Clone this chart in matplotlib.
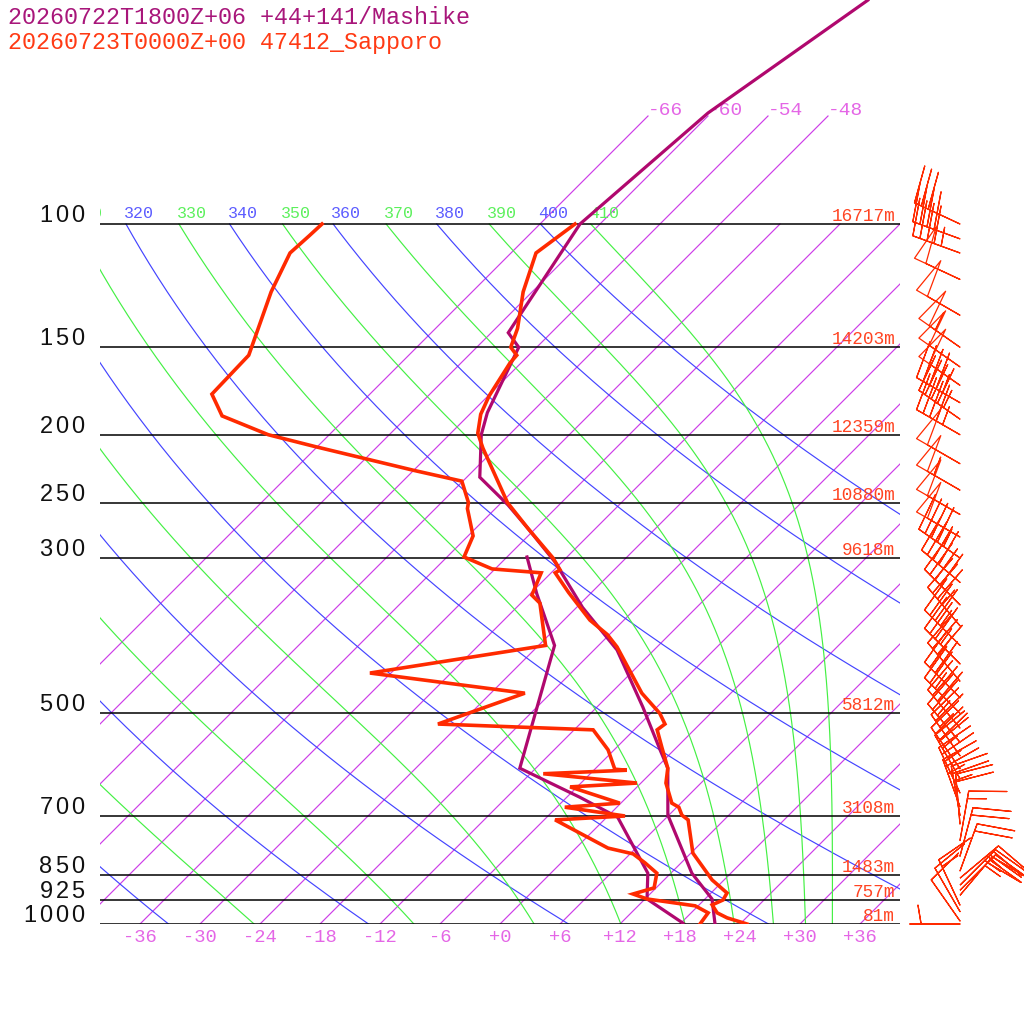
#emagramme skew-T : Sapporo (obs) + Mashike (modele)
import numpy as np
import matplotlib
matplotlib.use('Agg')
from matplotlib import pyplot as plt, transforms

# niveaux standard et hauteurs geopotentielles
plevels = [1000, 925, 850, 700, 500, 300, 250, 200, 150, 100]
heights = ['81m', '757m', '1483m', '3108m', '5812m', '9618m', '10880m', '12359m', '14203m', '16717m']

# 47412 Sapporo, temperature
obs_p = [1000, 980, 964, 939, 924, 903, 865, 792, 710, 699, 681, 672, 629, 599, 559, 528, 518, 500,
         468, 402, 386, 368, 336, 315, 312, 300, 272, 250, 209, 199, 187, 176, 158, 154, 150, 141,
         125, 110, 100]
obs_t = [24.7, 22.1, 20.6, 19.3, 19.9, 19.6, 16.8, 12.2, 8.4, 7.3, 6.2, 5.1, 2.5, 1.2, -1.5, -3.7, -3.5, -5.1,
         -8.9, -16.0, -18.2, -21.4, -26.3, -29.6, -29.4, -31.3, -36.8, -41.4, -49.3, -51.3, -52.9, -53.9, -55.1, -55.2, -56.6, -57.8,
         -60.9, -63.5, -62.5]
# 47412 Sapporo, point de rosee
obs_td_p = [1000, 964, 942, 921, 906, 888, 846, 818, 794, 779, 710, 701, 681, 672, 637, 629, 610, 603, 601,
            564, 528, 518, 468, 438, 400, 348, 339, 315, 311, 299, 279, 255, 250, 233, 225, 208, 200,
            188, 183, 175, 154, 125, 110, 104, 100]
obs_td = [20.0, 19.7, 17.7, 12.2, 10.3, 11.8, 10.6, 8.4, 6.3, 3.2, -4.9, 1.7, -5.2, -0.1, -6.7, -0.4, -10.7, -2.7, -4.0,
          -6.6, -10.1, -26.2, -20.6, -38.1, -23.3, -28.1, -29.7, -31.0, -36.3, -40.3, -41.5, -44.8, -45.3, -48.1, -53.9, -66.2, -72.1,
          -78.6, -79.8, -81.8, -82.0, -86.1, -88.1, -87.9, -87.8]

# Mashike, modele
mod_p = [997, 921, 846, 699, 599, 564, 490, 406, 353, 304, 272, 252, 230, 200, 186, 150, 143, 100, 69.4, 47.9]
mod_t = [21.4, 18.7, 14.1, 5.9, 1.2, -1.4, -7.4, -15.7, -23.4, -30.7, -36.8, -41.1, -46.7, -50.8, -52.4, -55.8, -58.3,
         -62.0, -60.3, -55.6]
mod_td_p = [997, 921, 846, 704, 659, 599, 400, 337, 299]
mod_td = [18.2, 12.2, 9.7, 1.1, -4.7, -13.6, -22.4, -29.4, -34.0]

# vent Sapporo (direction en degres, vitesse en noeuds)
wind_p = [1000, 990, 960, 940, 910, 895, 880, 860, 840, 800, 760, 720, 700, 680, 650, 620, 600, 575, 550, 525,
          500, 475, 450, 425, 400, 375, 350, 325, 300, 280, 260, 240, 220, 200, 190, 180, 170, 160, 150, 135,
          120, 110, 105, 100]
wind_dir = [270, 325, 330, 335, 40, 45, 45, 50, 20, 15, 10, 355, 350, 340, 335, 330, 325, 325, 320, 320,
            315, 315, 320, 315, 315, 320, 315, 310, 305, 300, 300, 300, 300, 300, 305, 300, 305, 305, 305, 300,
            295, 290, 290, 295]
wind_spd = [5, 10, 10, 15, 20, 25, 25, 25, 20, 20, 15, 20, 25, 25, 25, 25, 30, 25, 25, 30,
            25, 30, 30, 35, 35, 35, 40, 40, 45, 50, 50, 55, 50, 45, 45, 45, 50, 50, 55, 50,
            50, 45, 40, 30]

isothermes = list(range(-66, 37, 6))
theta_sec = list(range(240, 401, 20))
theta_e = list(range(250, 411, 20))

violet = '#b0086e'
rouge = '#ff2a00'
c_iso = '#cc3ee8'
c_iso_lab = '#e466e6'
bleu = '#4444ff'
vert = '#44f044'
mono = 'Liberation Mono'

P_TOP = 1000 / 10 ** (924 / 700)
P_ISO = 1000 / 10 ** (808 / 700)


def skew(t, p):
    return np.asarray(t, dtype=float) + 70 * np.log10(1000 / np.asarray(p, dtype=float))


def theta_e_sat(tk, p):
    es = 6.112 * np.exp(17.67 * (tk - 273.15) / (tk - 29.65))
    es = np.minimum(es, 0.9 * p)
    r = 622.0 * es / (p - es)
    return tk * (1000 / p) ** (0.2854 * (1 - 0.28e-3 * r)) * np.exp((3.376 / tk - 0.00254) * r * (1 + 0.81e-3 * r))


def adiabat_humide(the, p):
    lo = np.full(p.shape, 150.0)
    hi = np.full(p.shape, 330.0)
    for _ in range(60):
        mid = (lo + hi) / 2
        trop = theta_e_sat(mid, p) > the
        hi = np.where(trop, mid, hi)
        lo = np.where(trop, lo, mid)
    return (lo + hi) / 2 - 273.15


fig = plt.figure(figsize=(10.24, 10.24), dpi=100)
ax = fig.add_axes([100 / 1024, 100 / 1024, 800 / 1024, 924 / 1024])
ax.set_yscale('log')
ax.set_xlim(-40, 40)
ax.set_ylim(1000, P_TOP)
ax.axis('off')

pp = np.geomspace(1000, 100, 300)

# isothermes
for t in isothermes:
    ptop = P_ISO if t <= -48 else 100
    ax.plot(skew([t, t], [1000, ptop]), [1000, ptop], color=c_iso, lw=0.85, zorder=1)

# adiabatiques seches
for th in theta_sec:
    tt = th * (pp / 1000) ** 0.2857 - 273.15
    ax.plot(skew(tt, pp), pp, color=bleu, lw=0.85, zorder=1)

# adiabatiques humides
for th in theta_e:
    tt = adiabat_humide(th, pp)
    ax.plot(skew(tt, pp), pp, color=vert, lw=0.85, zorder=1)

# isobares
for p in plevels:
    ax.plot([-40, 40], [p, p], color='black', lw=1.1, zorder=2)

# etiquettes theta a 100 hPa
lab_theta = transforms.offset_copy(ax.transData, fig=fig, x=-2, y=6, units='dots')
for th in theta_sec:
    t100 = th * 0.1 ** 0.2857 - 273.15
    if skew(t100, 100) > -45:
        ax.text(skew(t100, 100), 100, str(th), color='#5c5cff', family=mono, fontsize=12,
                ha='left', va='baseline', transform=lab_theta, clip_on=True)
for th in theta_e:
    t100 = adiabat_humide(th, np.array([100.0]))[0]
    if skew(t100, 100) > -45:
        ax.text(skew(t100, 100), 100, str(th), color='#5cf05c', family=mono, fontsize=12,
                ha='left', va='baseline', transform=lab_theta, clip_on=True)

# etiquettes isothermes en haut
lab_iso = transforms.offset_copy(ax.transData, fig=fig, x=0, y=1, units='dots')
for t in isothermes:
    if t <= -48:
        ax.text(skew(t, P_ISO), P_ISO, '%d' % t, color=c_iso_lab, family=mono, fontsize=14,
                ha='left', va='baseline', transform=lab_iso)

# etiquettes temperature en bas
lab_bas = transforms.offset_copy(ax.transData, fig=fig, x=0, y=-13, units='dots')
for t in isothermes:
    if t >= -36:
        ax.text(t, 1000, '%+d' % t, color=c_iso_lab, family=mono, fontsize=13.5,
                ha='center', va='center', transform=lab_bas, clip_on=False)

# hauteurs
lab_h = transforms.offset_copy(ax.transData, fig=fig, x=0, y=3, units='dots')
for p, h in zip(plevels, heights):
    ax.text(39.5, p, h, color='#ff4422', family=mono, fontsize=12.8, ha='right', va='baseline',
            transform=lab_h)

# pressions a gauche
lab_p = transforms.offset_copy(ax.get_yaxis_transform(), fig=fig, x=0, y=8, units='dots')
for p in plevels:
    s = str(p)
    for i, ch in enumerate(s[::-1]):
        ax.text((78 - 16 * i - 100) / 800, p, ch, color='#111111', family='Liberation Sans', fontsize=17,
                ha='center', va='center', transform=lab_p, clip_on=False)

# sondages
ax.plot(skew(mod_t, mod_p), mod_p, color=violet, lw=2.3, zorder=4, solid_joinstyle='miter')
ax.plot(skew(mod_td, mod_td_p), mod_td_p, color=violet, lw=2.3, zorder=4, solid_joinstyle='miter')
ax.plot(skew(obs_t, obs_p), obs_p, color=rouge, lw=2.6, zorder=5, solid_joinstyle='miter')
ax.plot(skew(obs_td, obs_td_p), obs_td_p, color=rouge, lw=2.6, zorder=5, solid_joinstyle='miter')

# barbules de vent
d = np.radians(wind_dir)
s = np.array(wind_spd, dtype=float)
u = -s * np.sin(d)
v = -s * np.cos(d)
ax.barbs(np.full(len(wind_p), 46.0), wind_p, u, v, length=8.5, pivot='tip', color=rouge,
         linewidth=0.9, fill_empty=False, sizes=dict(height=0.75, spacing=0.15, emptybarb=0.0),
         facecolor='none', edgecolor=rouge, clip_on=False, zorder=5)

# titre
fig.text(8 / 1024, 1 - 17 / 1024, '20260722T1800Z+06 +44+141/Mashike', color='#a8167a', family=mono,
         fontsize=16.8, va='center', ha='left')
fig.text(8 / 1024, 1 - 42 / 1024, '20260723T0000Z+00 47412_Sapporo', color='#ff3a14', family=mono,
         fontsize=16.8, va='center', ha='left')

fig.savefig('out.png', dpi=100)
